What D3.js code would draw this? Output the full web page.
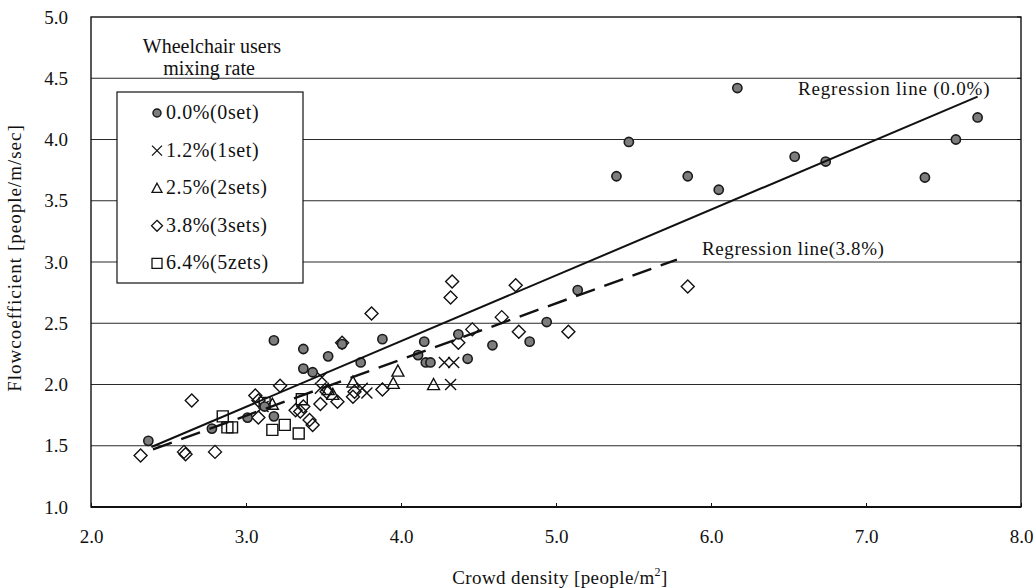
<!DOCTYPE html>
<html><head><meta charset="utf-8">
<script src="https://cdn.jsdelivr.net/npm/d3@7"></script>
<style>
html,body{margin:0;padding:0;background:#fff;}
text{font-family:"Liberation Serif","Times New Roman",serif;fill:#111;}
</style></head>
<body><svg id="c" width="1035" height="588"></svg>
<script>
// ---- data ----
const xTicks = [2.0, 3.0, 4.0, 5.0, 6.0, 7.0, 8.0];
const yTicks = [1.0, 1.5, 2.0, 2.5, 3.0, 3.5, 4.0, 4.5, 5.0];
const seriesNames = ["0.0%(0set)", "1.2%(1set)", "2.5%(2sets)", "3.8%(3sets)", "6.4%(5zets)"];
const rate00 = [[2.37,1.54],[2.78,1.64],[3.01,1.73],[3.12,1.82],[3.18,1.74],[3.18,2.36],[3.37,2.29],[3.37,2.13],[3.43,2.10],[3.53,2.23],[3.62,2.33],[3.74,2.18],[3.88,2.37],[4.11,2.24],[4.15,2.35],[4.16,2.18],[4.19,2.18],[4.37,2.41],[4.43,2.21],[4.59,2.32],[4.83,2.35],[4.94,2.51],[5.14,2.77],[5.39,3.70],[5.47,3.98],[5.85,3.70],[6.05,3.59],[6.17,4.42],[6.54,3.86],[6.74,3.82],[7.38,3.69],[7.58,4.00],[7.72,4.18]];
const rate12 = [[3.11,1.82],[3.48,1.97],[3.49,2.06],[3.75,1.97],[3.78,1.93],[4.28,2.18],[4.34,2.18],[4.32,2.00]];
const rate25 = [[3.17,1.84],[3.53,1.96],[3.56,1.92],[3.69,2.02],[3.95,2.01],[3.98,2.11],[4.21,2.00]];
const rate38 = [[2.32,1.42],[2.60,1.45],[2.61,1.43],[2.65,1.87],[2.80,1.45],[3.06,1.91],[3.08,1.87],[3.08,1.73],[3.22,1.99],[3.32,1.79],[3.35,1.78],[3.37,1.82],[3.41,1.71],[3.43,1.67],[3.48,1.84],[3.52,1.94],[3.59,1.86],[3.62,2.34],[3.69,1.90],[3.70,1.94],[3.81,2.58],[3.88,1.96],[4.32,2.71],[4.33,2.84],[4.37,2.34],[4.46,2.45],[4.65,2.55],[4.74,2.81],[4.76,2.43],[5.08,2.43],[5.85,2.80]];
const rate64 = [[2.85,1.74],[2.88,1.65],[2.91,1.65],[3.12,1.85],[3.17,1.63],[3.25,1.67],[3.34,1.60],[3.36,1.88]];
const regLine00 = [[2.39,1.49],[7.72,4.35]];
const regLine38 = [[2.40,1.47],[5.78,3.02]];
const regLabels = ["Regression line (0.0%)", "Regression line(3.8%)"];

// ---- drawing ----
const svg = d3.select("#c");
const L = 91, R = 1021, T = 17, B = 507;
const x = d3.scaleLinear().domain([2, 8]).range([L, R]);
const y = d3.scaleLinear().domain([1, 5]).range([B, T]);

// gridlines
svg.append("g").selectAll("line").data(yTicks.filter(v => v > 1 && v < 5)).join("line")
  .attr("x1", L).attr("x2", R).attr("y1", d => y(d)).attr("y2", d => y(d))
  .attr("stroke", "#2a2a2a").attr("stroke-width", 1.2);

// axes
const fmt = d3.format(".1f");
const gx = svg.append("g").attr("transform", `translate(0,${B})`)
  .call(d3.axisBottom(x).tickValues(xTicks).tickFormat(fmt).tickSize(-4).tickPadding(23));
const gy = svg.append("g").attr("transform", `translate(${L},0)`)
  .call(d3.axisLeft(y).tickValues(yTicks).tickFormat(fmt).tickSize(0).tickPadding(23));
[gx, gy].forEach(g => {
  g.select(".domain").remove();
  g.selectAll("text").attr("font-size", 19).attr("font-family", "Liberation Serif").attr("fill", "#111");
  g.selectAll("line").attr("stroke", "#111");
});
// right-side small ticks
svg.append("g").selectAll("line").data(yTicks).join("line")
  .attr("x1", R - 4).attr("x2", R).attr("y1", d => y(d)).attr("y2", d => y(d))
  .attr("stroke", "#111");
// frame
svg.append("rect").attr("x", L).attr("y", T).attr("width", R - L).attr("height", B - T)
  .attr("fill", "none").attr("stroke", "#111").attr("stroke-width", 1.4);
svg.append("line").attr("x1", L).attr("x2", R).attr("y1", B).attr("y2", B)
  .attr("stroke", "#111").attr("stroke-width", 2.2);

// axis titles
svg.append("text").attr("x", 560).attr("y", 584).attr("text-anchor", "middle")
  .attr("font-size", 19).attr("letter-spacing", 0.4)
  .html('Crowd density [people/m<tspan dy="-8" font-size="12">2</tspan><tspan dy="8">]</tspan>');
svg.append("text").attr("transform", "translate(21,258) rotate(-90)").attr("text-anchor", "middle")
  .attr("font-size", 19).attr("letter-spacing", 1).text("Flowcoefficient [people/m/sec]");

// markers
function markerPath(type, s) {
  const h = s / 2;
  if (type === "x") return `M${-h},${-h}L${h},${h}M${-h},${h}L${h},${-h}`;
  if (type === "tri") return `M0,${-h}L${h},${h * 0.85}L${-h},${h * 0.85}Z`;
  if (type === "dia") return `M0,${-h}L${h},0L0,${h}L${-h},0Z`;
  if (type === "sq") return `M${-h},${-h}H${h}V${h}H${-h}Z`;
  return "";
}
function drawSeries(data, type, size) {
  const g = svg.append("g");
  if (type === "circle") {
    g.selectAll("circle").data(data).join("circle")
      .attr("cx", d => x(d[0])).attr("cy", d => y(d[1])).attr("r", size)
      .attr("fill", "#7d7d7d").attr("stroke", "#1a1a1a").attr("stroke-width", 1.6);
  } else {
    g.selectAll("path").data(data).join("path")
      .attr("transform", d => `translate(${x(d[0])},${y(d[1])})`)
      .attr("d", markerPath(type, size))
      .attr("fill", "none").attr("stroke", "#111").attr("stroke-width", 1.4);
  }
}
drawSeries(rate38, "dia", 13);
drawSeries(rate64, "sq", 11);
drawSeries(rate25, "tri", 12);
drawSeries(rate12, "x", 11);
drawSeries(rate00, "circle", 4.6);

// regression lines
const line = d3.line().x(d => x(d[0])).y(d => y(d[1]));
svg.append("path").attr("d", line(regLine00)).attr("fill", "none")
  .attr("stroke", "#111").attr("stroke-width", 2);
svg.append("path").attr("d", line(regLine38)).attr("fill", "none")
  .attr("stroke", "#111").attr("stroke-width", 2.4).attr("stroke-dasharray", "20,10");
svg.append("text").attr("x", 798).attr("y", 95).attr("font-size", 19).attr("letter-spacing", 0.8).text(regLabels[0]);
svg.append("text").attr("x", 702).attr("y", 255).attr("font-size", 19).attr("letter-spacing", 0.6).text(regLabels[1]);

// legend
svg.append("text").attr("x", 212).attr("y", 53).attr("text-anchor", "middle").attr("font-size", 20).text("Wheelchair users");
svg.append("text").attr("x", 209).attr("y", 75).attr("text-anchor", "middle").attr("font-size", 20).text("mixing rate");
svg.append("rect").attr("x", 117).attr("y", 92).attr("width", 186).attr("height", 191)
  .attr("fill", "#fff").attr("stroke", "#111").attr("stroke-width", 1.2);
const legTypes = ["circle", "x", "tri", "dia", "sq"];
const legSizes = [4, 10, 10, 11, 10];
const lg = svg.append("g").selectAll("g").data(seriesNames).join("g")
  .attr("transform", (d, i) => `translate(157,${113 + i * 37.6})`);
lg.each(function(d, i) {
  const g = d3.select(this);
  if (legTypes[i] === "circle") {
    g.append("circle").attr("r", legSizes[i]).attr("fill", "#7d7d7d").attr("stroke", "#1a1a1a").attr("stroke-width", 1.5);
  } else {
    g.append("path").attr("d", markerPath(legTypes[i], legSizes[i])).attr("fill", "none")
      .attr("stroke", "#111").attr("stroke-width", 1.3);
  }
  g.append("text").attr("x", 9).attr("y", 6).attr("font-size", 20).attr("letter-spacing", 0.6).text(d);
});
</script></body></html>
